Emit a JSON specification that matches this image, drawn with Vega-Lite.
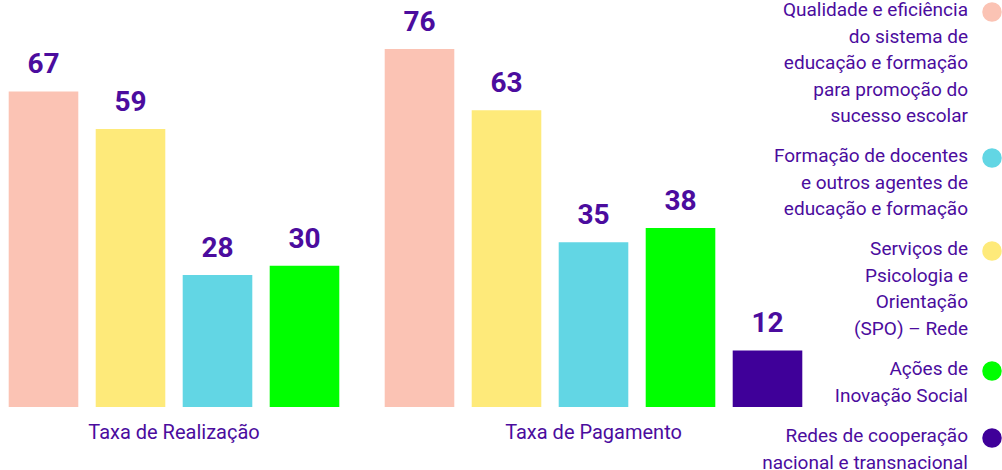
{
  "$schema": "https://vega.github.io/schema/vega-lite/v6.json",
  "padding": 0,
  "background": "white",
  "data": {
    "values": [
      {"taxa": "Taxa de Realização", "categoria": "Qualidade e eficiência do sistema de educação e formação para promoção do sucesso escolar", "valor": 67},
      {"taxa": "Taxa de Realização", "categoria": "Serviços de Psicologia e Orientação (SPO) – Rede", "valor": 59},
      {"taxa": "Taxa de Realização", "categoria": "Formação de docentes e outros agentes de educação e formação", "valor": 28},
      {"taxa": "Taxa de Realização", "categoria": "Ações de Inovação Social", "valor": 30},
      {"taxa": "Taxa de Pagamento", "categoria": "Qualidade e eficiência do sistema de educação e formação para promoção do sucesso escolar", "valor": 76},
      {"taxa": "Taxa de Pagamento", "categoria": "Serviços de Psicologia e Orientação (SPO) – Rede", "valor": 63},
      {"taxa": "Taxa de Pagamento", "categoria": "Formação de docentes e outros agentes de educação e formação", "valor": 35},
      {"taxa": "Taxa de Pagamento", "categoria": "Ações de Inovação Social", "valor": 38},
      {"taxa": "Taxa de Pagamento", "categoria": "Redes de cooperação nacional e transnacional", "valor": 12}
    ]
  },
  "facet": {
    "column": {
      "field": "taxa",
      "type": "nominal",
      "sort": ["Taxa de Realização", "Taxa de Pagamento"],
      "title": null,
      "header": {
        "labelOrient": "bottom",
        "labelFont": "Roboto",
        "labelFontSize": 20,
        "labelColor": "#4B0C9E",
        "labelPadding": 16
      }
    }
  },
  "spacing": 28,
  "resolve": {"scale": {"x": "independent"}},
  "spec": {
    "width": {"step": 87},
    "height": 407,
    "encoding": {
      "x": {
        "field": "categoria",
        "type": "nominal",
        "sort": [
          "Qualidade e eficiência do sistema de educação e formação para promoção do sucesso escolar",
          "Serviços de Psicologia e Orientação (SPO) – Rede",
          "Formação de docentes e outros agentes de educação e formação",
          "Ações de Inovação Social",
          "Redes de cooperação nacional e transnacional"
        ],
        "axis": null,
        "scale": {"paddingInner": 0.2, "paddingOuter": 0.1}
      },
      "y": {
        "field": "valor",
        "type": "quantitative",
        "axis": null,
        "scale": {"domain": [0, 86.4], "nice": false, "zero": true}
      }
    },
    "layer": [
      {
        "mark": {"type": "bar"},
        "encoding": {
          "color": {
            "field": "categoria",
            "type": "nominal",
            "scale": {
              "domain": [
                "Qualidade e eficiência do sistema de educação e formação para promoção do sucesso escolar",
                "Formação de docentes e outros agentes de educação e formação",
                "Serviços de Psicologia e Orientação (SPO) – Rede",
                "Ações de Inovação Social",
                "Redes de cooperação nacional e transnacional"
              ],
              "range": ["#FBC3B4", "#62D6E4", "#FEEA7A", "#00FF00", "#3F0099"]
            },
            "legend": {
              "orient": "none",
              "legendX": 982,
              "legendY": 2,
              "title": null,
              "padding": 0,
              "symbolType": "circle",
              "symbolSize": 380,
              "symbolStrokeWidth": 0,
              "symbolOpacity": 1,
              "labelAlign": "right",
              "labelBaseline": "top",
              "labelOffset": -34,
              "labelFont": "Roboto",
              "labelFontSize": 19,
              "labelColor": "#4B0C9E",
              "labelLimit": 400,
              "rowPadding": 21,
              "labelExpr": "indexof(datum.label,'Qualidade')==0 ? ['Qualidade e eficiência','do sistema de','educação e formação','para promoção do','sucesso escolar'] : indexof(datum.label,'Formação')==0 ? ['Formação de docentes','e outros agentes de','educação e formação'] : indexof(datum.label,'Serviços')==0 ? ['Serviços de','Psicologia e','Orientação','(SPO) – Rede'] : indexof(datum.label,'Ações')==0 ? ['Ações de','Inovação Social'] : ['Redes de cooperação','nacional e transnacional']",
              "encode": {
                "labels": {"update": {"lineHeight": {"value": 26.5}, "dy": {"value": -11}}}
              }
            }
          }
        }
      },
      {
        "mark": {
          "type": "text",
          "baseline": "bottom",
          "dy": -12,
          "font": "Roboto",
          "fontSize": 28,
          "fontWeight": "bold",
          "color": "#4B0C9E"
        },
        "encoding": {"text": {"field": "valor", "type": "quantitative"}}
      }
    ]
  },
  "config": {
    "view": {"stroke": null}
  }
}
